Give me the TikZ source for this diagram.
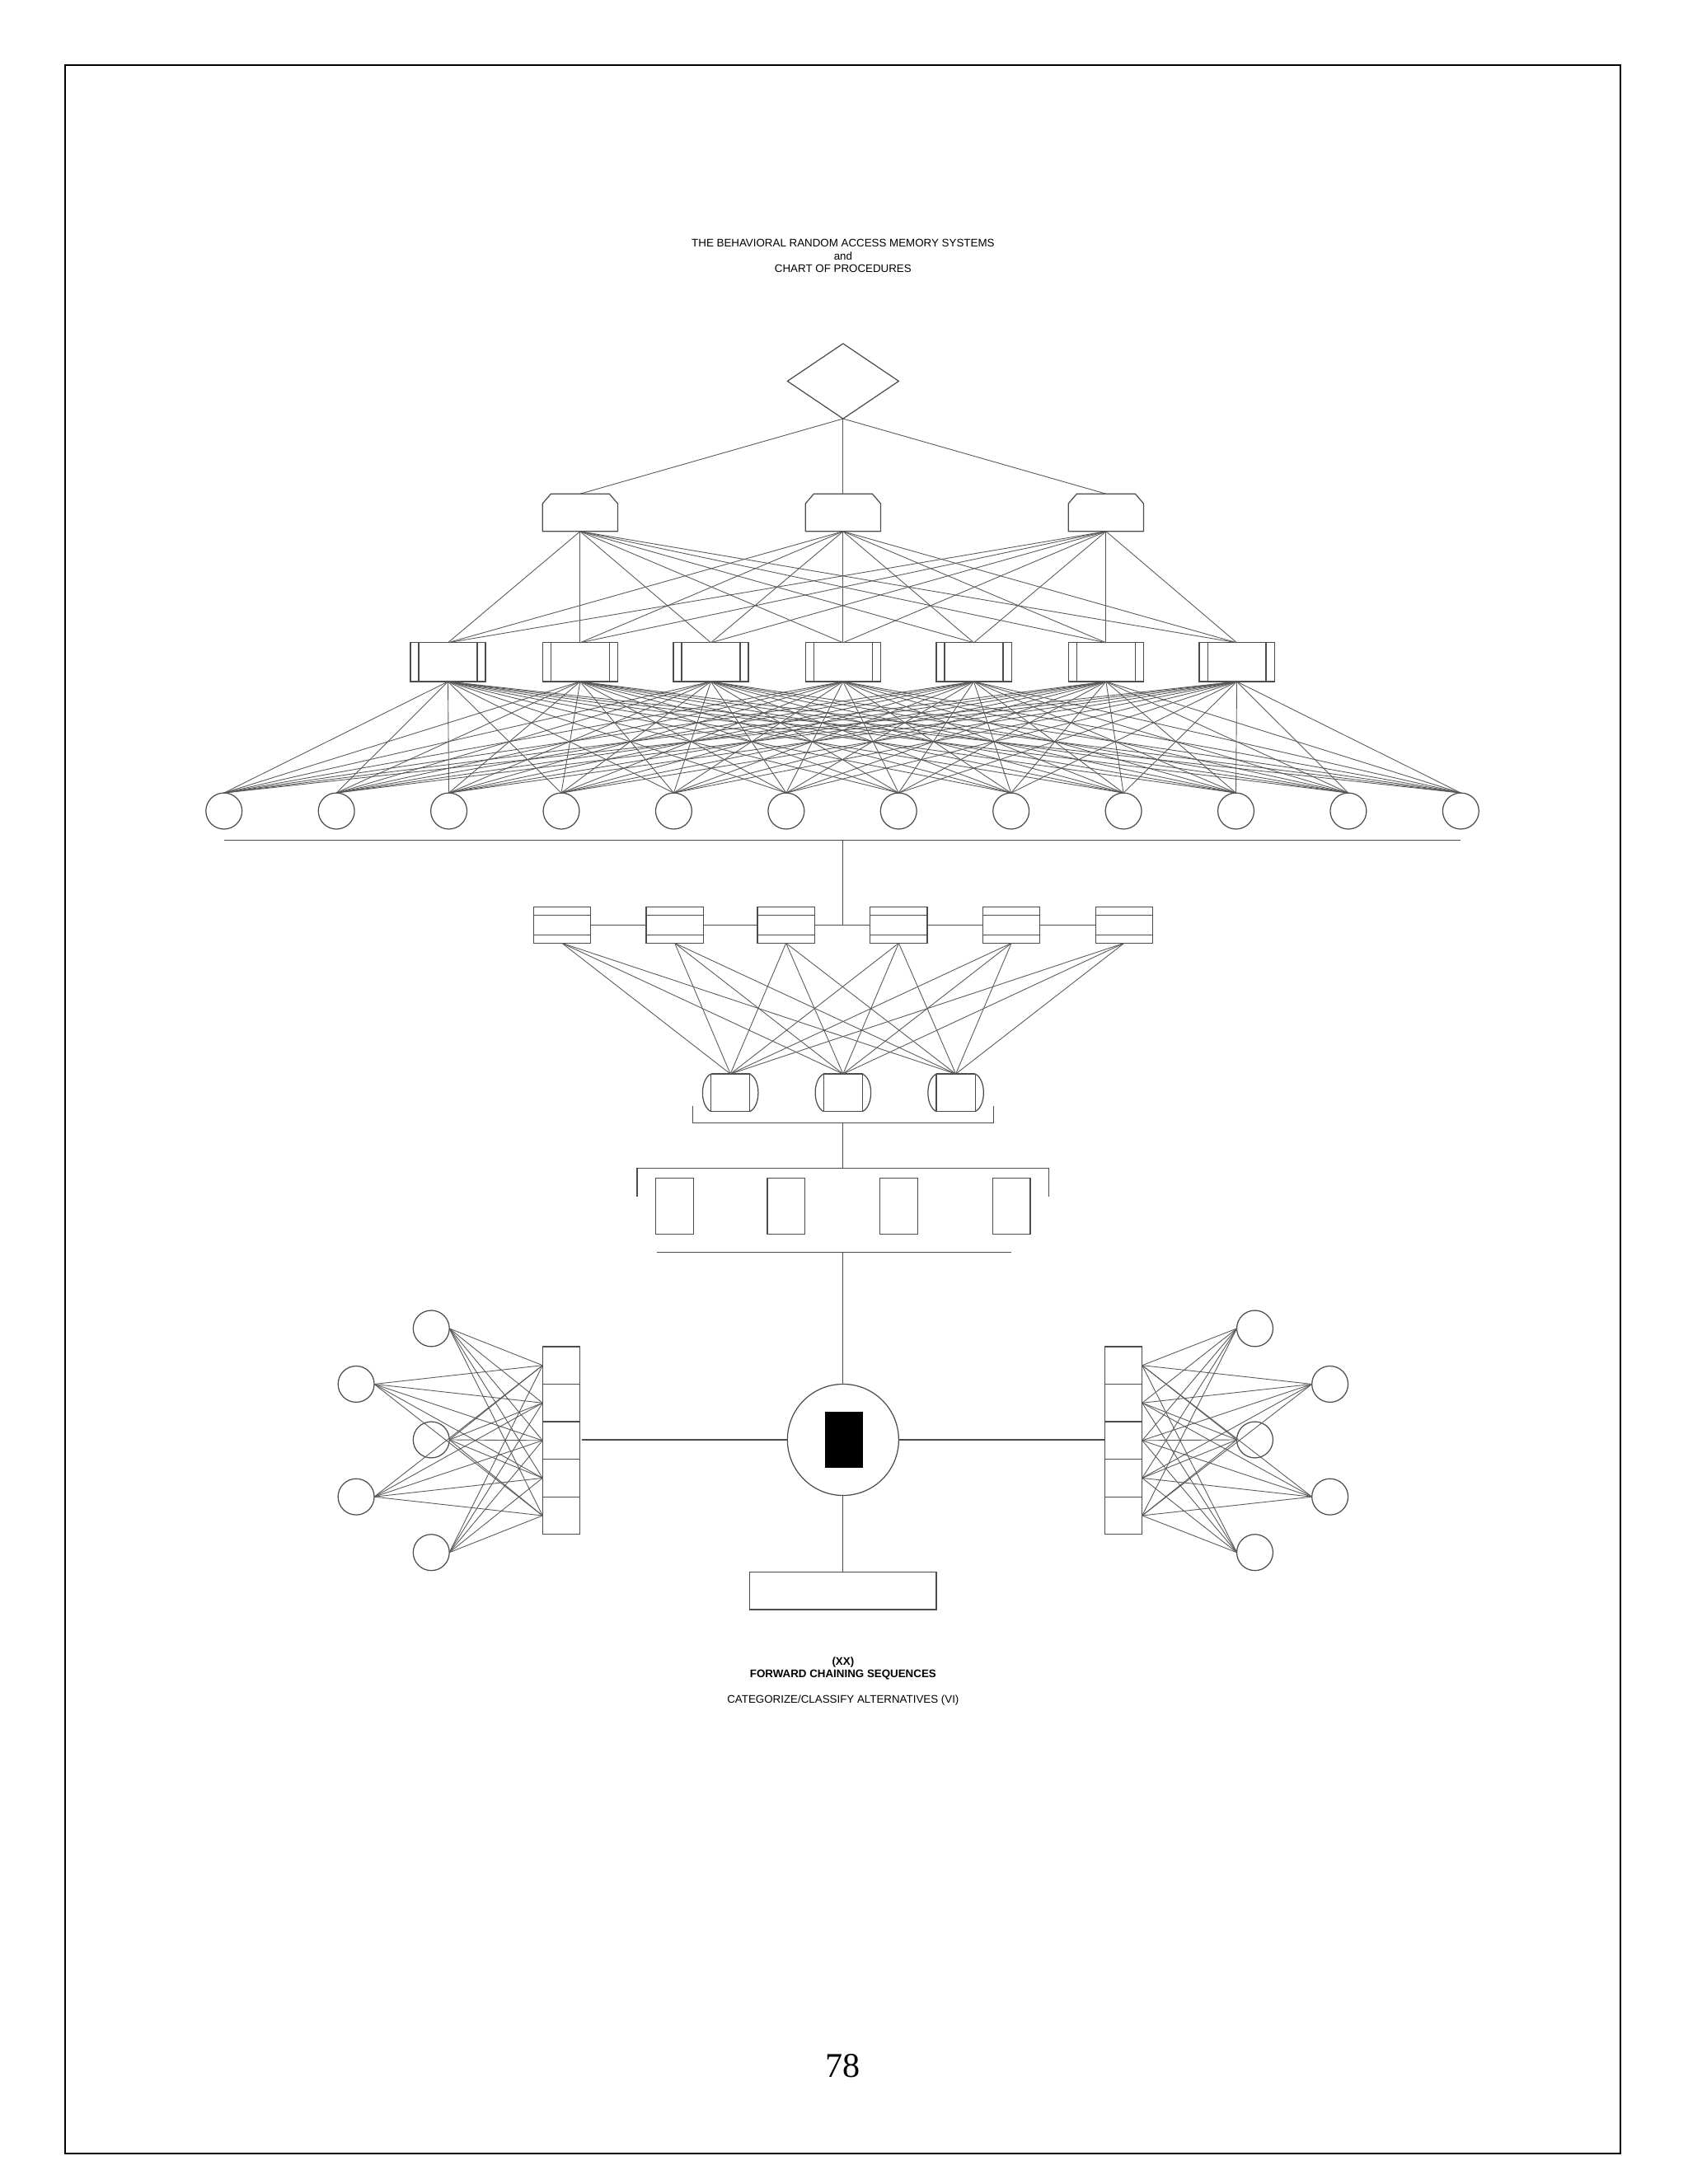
\documentclass[tikz,border=0pt]{standalone}
\usepackage{fontspec}
\setmainfont{Liberation Sans}
\newfontfamily\serifpn{Liberation Serif}
\begin{document}
\begin{tikzpicture}[x=0.016884cm,y=-0.016884cm,
  ln/.style={draw=black!70,line width=0.35pt},
  thin/.style={draw=black!65,line width=0.25pt},
  tx/.style={font=\fontsize{3.8}{4.6}\selectfont,inner sep=0pt,align=center}]
\useasboundingbox (0,0) rectangle (1213,1570);
\draw[line width=0.6pt] (47,47) rectangle (1165,1548);
% title
\node[tx] (t1) at (606,175) {THE BEHAVIORAL RANDOM ACCESS MEMORY SYSTEMS};
\node[tx] (t2) at (606,184) {and};
\node[tx] (t3) at (606,193) {CHART OF PROCEDURES};
% diamond
\draw[ln] (606,247) -- (646,274) -- (606,301) -- (566,274) -- cycle;
\coordinate (dm) at (606,301);
% level 2
\foreach \i/\x in {1/417,2/606,3/795}{
  \draw[ln] (\x-27,382) -- (\x-27,362) -- (\x-21,355) -- (\x+21,355) -- (\x+27,362) -- (\x+27,382) -- cycle;
  \coordinate (aT\i) at (\x,355); \coordinate (aB\i) at (\x,382);
  \draw[thin] (dm) -- (aT\i);
}
% level 3
\foreach \i/\x in {1/322,2/417,3/511,4/606,5/700,6/795,7/889}{
  \draw[ln] (\x-27,462) rectangle (\x+27,490);
  \draw[ln] (\x-21,462) -- (\x-21,490) (\x+21,462) -- (\x+21,490);
  \coordinate (bT\i) at (\x,462); \coordinate (bB\i) at (\x,490);
}
\foreach \i in {1,2,3}{\foreach \j in {1,...,7}{\draw[thin] (aB\i) -- (bT\j);}}
% level 4 circles
\foreach \k in {1,...,12}{
  \pgfmathsetmacro\cx{161+(\k-1)*80.82}
  \draw[ln] (\cx,583) circle[radius=13];
  \coordinate (cT\k) at (\cx,570);
}
\foreach \i in {1,...,7}{\foreach \k in {1,...,12}{\draw[thin] (bB\i) -- (cT\k);}}
\draw[ln] (161,604) -- (1050,604);
\draw[ln] (606,604) -- (606,665);
% level 5
\draw[ln] (404,665) -- (808,665);
\foreach \i/\x in {1/404,2/485,3/565,4/646,5/727,6/808}{
  \filldraw[ln,fill=white] (\x-20.5,652) rectangle (\x+20.5,678);
  \draw[ln] (\x-20.5,658) -- (\x+20.5,658) (\x-20.5,672) -- (\x+20.5,672);
  \coordinate (dB\i) at (\x,678);
}
% level 6
\foreach \j/\x in {1/525,2/606,3/687}{
  \draw[ln] (\x-14,772) -- (\x+14,772) (\x-14,799) -- (\x+14,799);
  \draw[ln] (\x-14,772) -- (\x-14,799) (\x+14,772) -- (\x+14,799);
  \draw[ln] (\x-14,772) .. controls (\x-22,776) and (\x-22,795) .. (\x-14,799);
  \draw[ln] (\x+14,772) .. controls (\x+22,776) and (\x+22,795) .. (\x+14,799);
  \coordinate (eT\j) at (\x,772);
}
\foreach \i in {1,...,6}{\foreach \j in {1,2,3}{\draw[thin] (dB\i) -- (eT\j);}}
\draw[ln] (498,795) -- (498,807) -- (714,807) -- (714,795);
\draw[ln] (606,807) -- (606,840);
\draw[ln] (458,860) -- (458,840) -- (754,840) -- (754,860);
\foreach \x in {485,565,646,727}{\draw[ln] (\x-13.5,847) rectangle (\x+13.5,887);}
\draw[ln] (472,900) -- (727,900);
\draw[ln] (606,900) -- (606,995);
% center
\draw[ln] (606,1035) circle[radius=40];
\fill[black] (593,1015) rectangle (620,1055);
\draw[ln] (418,1035) -- (566,1035) (646,1035) -- (794,1035);
\draw[ln] (606,1075) -- (606,1130);
\draw[ln] (539,1130) rectangle (673,1157);
% side stacks
\foreach \s/\sx/\ex/\cA/\cB/\d in {L/390/390/310/256/1,R/794/821/902/956/-1}{
  \foreach \m in {0,...,4}{
    \draw[ln] (\sx,968+\m*27) rectangle (\sx+27,995+\m*27);
    \coordinate (\s p\m) at (\ex,981.5+\m*27);
  }
  \foreach \cy in {955,1035,1116}{
    \draw[ln] (\cA,\cy) circle[radius=13];
    \foreach \m in {0,...,4}{\draw[thin] (\cA+13*\d,\cy) -- (\s p\m);}
  }
  \foreach \cy in {995,1076}{
    \draw[ln] (\cB,\cy) circle[radius=13];
    \foreach \m in {0,...,4}{\draw[thin] (\cB+13*\d,\cy) -- (\s p\m);}
  }
}
% bottom texts
\node[tx,font=\fontsize{3.8}{4.6}\selectfont\bfseries] (b1) at (606,1195) {(XX)};
\node[tx,font=\fontsize{3.8}{4.6}\selectfont\bfseries] (b2) at (606,1204) {FORWARD CHAINING SEQUENCES};
\node[tx] (b3) at (606,1222) {CATEGORIZE/CLASSIFY ALTERNATIVES (VI)};
\node[font=\serifpn\fontsize{12}{14}\selectfont,inner sep=0pt] (pn) at (606,1485) {78};
\end{tikzpicture}
\end{document}
